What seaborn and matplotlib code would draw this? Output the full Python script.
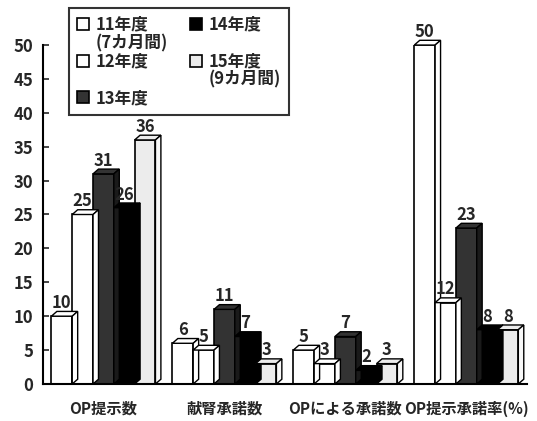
import matplotlib
matplotlib.use("Agg")
import matplotlib.pyplot as plt
from matplotlib.patches import Polygon, Patch
import seaborn as sns
import pandas as pd

categories = ["OP提示数", "献腎承諾数", "OPによる承諾数", "OP提示承諾率(%)"]
years = ["11年度", "12年度", "13年度", "14年度", "15年度"]
fy11 = [10, 6, 5, 50]
fy12 = [25, 5, 3, 12]
fy13 = [31, 11, 7, 23]
fy14 = [26, 7, 2, 8]
fy15 = [36, 3, 3, 8]
y_ticks = [0, 5, 10, 15, 20, 25, 30, 35, 40, 45, 50]

series = [fy11, fy12, fy13, fy14, fy15]
rows = []
for year, vals in zip(years, series):
    for cat, v in zip(categories, vals):
        rows.append({"category": cat, "year": year, "value": v})
df = pd.DataFrame(rows)

sns.set_theme(style="white")
plt.rcParams["font.family"] = ["Noto Sans CJK JP", "DejaVu Sans"]
plt.rcParams["font.weight"] = "bold"

face = {"11年度": "#ffffff", "12年度": "#ffffff", "13年度": "#333333",
        "14年度": "#000000", "15年度": "#ececec"}
side = {"11年度": "#ffffff", "12年度": "#ffffff", "13年度": "#1a1a1a",
        "14年度": "#000000", "15年度": "#f8f8f8"}

fig = plt.figure(figsize=(5.37, 4.21), dpi=100)
ax = fig.add_axes([0.080, 0.088, 0.901, 0.805])

sns.barplot(data=df, x="category", y="value", hue="year", hue_order=years,
            order=categories, palette=face, width=0.86, gap=0,
            edgecolor="black", linewidth=1.2, legend=False, ax=ax)

# pseudo 3D: a top face and a side face on each bar
dx, dy = 0.045, 0.7
for cont, year in zip(ax.containers, years):
    for p in cont.patches:
        x0, y0 = p.get_x(), p.get_y()
        w, h = p.get_width(), p.get_height()
        top = Polygon([[x0, y0 + h], [x0 + dx, y0 + h + dy],
                       [x0 + w + dx, y0 + h + dy], [x0 + w, y0 + h]],
                      closed=True, facecolor=face[year], edgecolor="black",
                      linewidth=1.0, zorder=p.get_zorder(), clip_on=False)
        sd = Polygon([[x0 + w, y0], [x0 + w + dx, y0 + dy],
                      [x0 + w + dx, y0 + h + dy], [x0 + w, y0 + h]],
                     closed=True, facecolor=side[year], edgecolor="black",
                     linewidth=1.0, zorder=p.get_zorder(), clip_on=False)
        ax.add_patch(top)
        ax.add_patch(sd)
    ax.bar_label(cont, labels=[str(int(v)) for v in cont.datavalues],
                 padding=3, fontsize=12, fontweight="bold")

ax.set_ylim(0, 50)
ax.set_xlim(-0.5, 3.5)
ax.set_yticks(y_ticks)
ax.set_xlabel("")
ax.set_ylabel("")
ax.tick_params(axis="y", direction="in", length=4, width=1.2, labelsize=12, pad=7,
               left=True)
ax.tick_params(axis="x", length=0, labelsize=11, pad=12)
for lab in ax.get_xticklabels() + ax.get_yticklabels():
    lab.set_fontweight("bold")
sns.despine(ax=ax, top=True, right=True)
for s in ("left", "bottom"):
    ax.spines[s].set_color("black")
    ax.spines[s].set_linewidth(1.5)

# legend: five rows, two columns, with continuation lines
def swatch(year):
    return Patch(facecolor=face[year], edgecolor="black", linewidth=1.2)

blank = Patch(facecolor="none", edgecolor="none")
handles = [swatch("11年度"), blank, swatch("12年度"), blank, swatch("13年度"),
           swatch("14年度"), blank, swatch("15年度"), blank, blank]
labels = ["11年度", "(7カ月間)", "12年度", "", "13年度",
          "14年度", "", "15年度", "(9カ月間)", ""]
leg = fig.legend(handles, labels, ncol=2, loc="upper left",
                 bbox_to_anchor=(0.113, 1.0), frameon=True, fancybox=False,
                 fontsize=12, handlelength=0.75, handleheight=0.75,
                 handletextpad=0.4, columnspacing=1.3, labelspacing=0.02,
                 borderpad=0.45)
leg.get_frame().set_edgecolor("black")
leg.get_frame().set_linewidth(1.5)
for t in leg.get_texts():
    t.set_fontweight("bold")

fig.savefig("out.png", dpi=100, facecolor="white")
